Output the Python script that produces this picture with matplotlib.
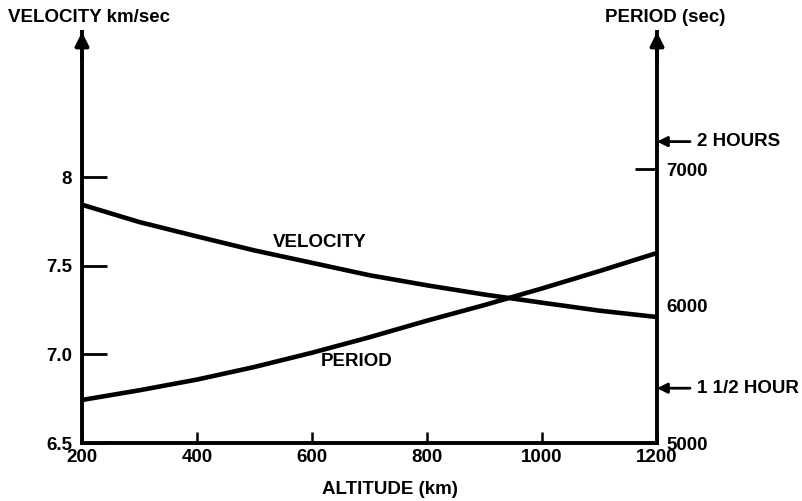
import numpy as np
import matplotlib.pyplot as plt

plt.rcParams['font.family'] = ['Liberation Sans', 'DejaVu Sans']
plt.rcParams['font.weight'] = 'bold'

# values
altitude = [200, 300, 400, 500, 600, 700, 800, 900, 1000, 1100, 1200]
velocity = [7.845, 7.747, 7.666, 7.587, 7.517, 7.447, 7.390, 7.338, 7.292, 7.247, 7.211]
period = [5314, 5385, 5463, 5555, 5659, 5772, 5893, 6007, 6128, 6255, 6387]

x_ticks = [200, 400, 600, 800, 1000, 1200]
v_ticks = [6.5, 7.0, 7.5, 8.0]
v_labels = ["6.5", "7.0", "7.5", "8"]
p_ticks = [5000, 6000, 7000]
p_marks = [
    (7200, "2 HOURS"),
    (5400, "1 1/2 HOUR"),
]

W, H = 803, 501
fig = plt.figure(figsize=(W / 100, H / 100), dpi=100)
ax = fig.add_axes([82 / W, 1 - 443 / H, (657 - 82) / W, (443 - 32) / H])
ax2 = ax.twinx()

lw_axis = 2.8
fs = 13.5

ax.plot(altitude, velocity, color='black', lw=3.3, solid_capstyle='butt')
ax2.plot(altitude, period, color='black', lw=3.3, solid_capstyle='butt')

ax.set_xlim(200, 1200)
ax.set_ylim(6.5, 8.82)
ax2.set_ylim(5000, 8000)

for s in ['top', 'right']:
    ax.spines[s].set_visible(False)
for s in ['top', 'left', 'bottom']:
    ax2.spines[s].set_visible(False)
ax.spines['left'].set_linewidth(lw_axis)
ax.spines['bottom'].set_linewidth(lw_axis)
ax2.spines['right'].set_linewidth(lw_axis)

ax.set_xticks(x_ticks)
ax.set_xticklabels([str(t) for t in x_ticks])
ax.tick_params(axis='x', direction='in', length=8, width=1.8, pad=4, labelsize=fs)
ax.set_yticks(v_ticks)
ax.set_yticklabels(v_labels)
ax.tick_params(axis='y', direction='in', length=18, width=2, pad=7, labelsize=fs)

ax2.set_yticks(p_ticks)
ax2.set_yticklabels([str(t) for t in p_ticks])
ax2.tick_params(axis='y', direction='in', length=16, width=2, pad=7, labelsize=fs)
# only the 7000 mark has a tick line
for t, v in zip(ax2.yaxis.get_major_ticks(), p_ticks):
    if v != 7000:
        t.tick2line.set_visible(False)
        t.tick1line.set_visible(False)

# arrow heads on top of both vertical axes
for xa in [0, 1]:
    ax.annotate('', xy=(xa, 1.0), xytext=(xa, 0.93), xycoords='axes fraction',
                arrowprops=dict(arrowstyle='-|>', color='black', lw=lw_axis,
                                mutation_scale=20, shrinkA=0, shrinkB=0),
                annotation_clip=False)

# hour markers on period axis
for val, txt in p_marks:
    ax2.annotate(txt, xy=(1200, val), xytext=(40, 0), textcoords='offset pixels',
                 ha='left', va='center', fontsize=fs,
                 arrowprops=dict(arrowstyle='-|>', color='black', lw=2,
                                 mutation_scale=15, shrinkA=3, shrinkB=0),
                 annotation_clip=False)

ax.text(614, 7.632, "VELOCITY", ha='center', va='center', fontsize=fs)
ax.text(678, 6.958, "PERIOD", ha='center', va='center', fontsize=fs)

fig.text(8 / W, 1 - 18 / H, "VELOCITY km/sec", ha='left', va='center', fontsize=fs)
fig.text(605 / W, 1 - 17 / H, "PERIOD (sec)", ha='left', va='center', fontsize=fs)
fig.text(390 / W, 1 - 490 / H, "ALTITUDE (km)", ha='center', va='center', fontsize=fs)

fig.savefig('out.png', dpi=100)
